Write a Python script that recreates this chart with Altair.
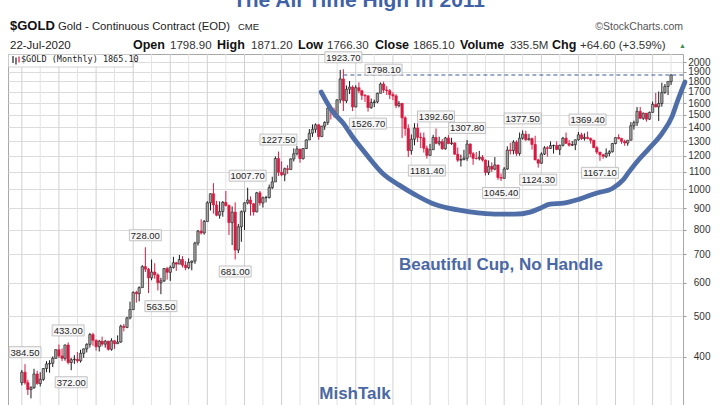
import altair as alt
import pandas as pd

# ---------------- data (monthly OHLC, $GOLD continuous contract) ----------------
months = pd.date_range("2003-01-01", "2020-07-01", freq="MS")

opens = [
    347.7, 368.0, 347.5, 334.9, 338.3, 364.5, 346.0, 354.0, 375.6, 385.0, 386.3, 397.0,   # 2003
    416.1, 402.2, 397.0, 427.0, 388.0, 394.0, 395.0, 391.5, 408.0, 418.0, 428.5, 452.0,   # 2004
    438.0, 423.0, 436.0, 429.0, 436.0, 417.0, 437.0, 430.0, 434.0, 473.0, 470.0, 495.0,   # 2005
    518.0, 569.0, 565.0, 584.0, 655.0, 646.0, 616.0, 636.0, 626.0, 600.0, 606.0, 648.0,   # 2006
    635.0, 652.0, 669.0, 664.0, 681.0, 660.0, 651.0, 670.0, 675.0, 745.0, 795.0, 787.0,   # 2007
    838.0, 928.0, 975.0, 917.0, 867.0, 885.0, 930.0, 914.0, 833.0, 882.0, 717.0, 814.0,   # 2008
    884.0, 928.0, 942.0, 923.0, 883.0, 980.0, 927.0, 954.0, 955.0, 1008.0, 1040.0, 1182.0,  # 2009
    1096, 1081, 1118, 1113, 1179, 1213, 1245, 1181, 1248, 1308, 1357, 1386,   # 2010
    1421, 1332, 1410, 1439, 1556, 1536, 1502, 1628, 1825, 1620, 1725, 1746,   # 2011
    1566, 1740, 1711, 1669, 1664, 1561, 1604, 1610, 1687, 1775, 1718, 1711,   # 2012
    1675, 1663, 1578, 1597, 1476, 1392, 1234, 1313, 1396, 1327, 1323, 1250,   # 2013
    1202, 1240, 1326, 1284, 1296, 1246, 1322, 1282, 1287, 1210, 1171, 1175,   # 2014
    1184, 1279, 1213, 1183, 1182, 1190, 1172, 1095, 1132, 1115, 1141, 1065,   # 2015
    1061, 1116, 1238, 1234, 1292, 1215, 1321, 1350, 1309, 1317, 1276, 1173,   # 2016
    1152, 1211, 1253, 1249, 1268, 1269, 1242, 1270, 1321, 1284, 1271, 1275,   # 2017
    1309, 1345, 1318, 1327, 1318, 1305, 1254, 1224, 1206, 1196, 1215, 1226,   # 2018
    1283, 1325, 1319, 1298, 1286, 1306, 1413, 1437, 1529, 1472, 1514, 1465,   # 2019
    1520, 1587, 1566, 1596, 1694, 1751, 1798.9,                               # 2020
]
highs = [
    372.5, 384.5, 353.0, 341.0, 375.0, 371.0, 368.0, 376.5, 391.0, 393.0, 401.0, 417.0,
    428.0, 419.0, 428.0, 433.0, 398.0, 404.0, 411.0, 416.0, 419.0, 431.0, 456.0, 456.5,
    440.0, 439.0, 447.0, 439.0, 437.0, 443.0, 438.0, 450.0, 477.0, 479.0, 498.0, 541.0,
    572.0, 574.0, 588.0, 660.0, 728.0, 650.0, 681.0, 667.0, 631.0, 616.0, 650.0, 654.0,
    659.0, 691.0, 672.0, 698.0, 694.0, 675.0, 685.0, 677.0, 750.0, 800.0, 848.0, 845.0,
    936.0, 977.0, 1033.0, 938.0, 935.0, 937.0, 990.0, 920.0, 910.0, 930.0, 827.0, 890.0,
    931.0, 1007.7, 961.0, 927.0, 985.0, 990.0, 960.0, 964.0, 1025.0, 1070.0, 1195.0, 1227.5,
    1163, 1125, 1140, 1183, 1249, 1266, 1245, 1252, 1313, 1388, 1424, 1432,
    1425, 1413, 1448, 1575, 1577, 1560, 1632, 1917, 1923.7, 1761, 1804, 1762,
    1763, 1791, 1720, 1680, 1668, 1640, 1630, 1693, 1790, 1798.1, 1755, 1727,
    1697, 1680, 1617, 1600, 1488, 1424, 1348, 1433, 1434, 1361, 1362, 1268,
    1280, 1345, 1392.6, 1331, 1315, 1330, 1345, 1323, 1290, 1255, 1207, 1239,
    1307.8, 1284, 1224, 1224, 1232, 1205, 1175, 1170, 1157, 1191, 1142, 1089,
    1128, 1263, 1287, 1306, 1305, 1362, 1377.5, 1375, 1352, 1326, 1338, 1180,
    1222, 1264, 1264, 1297, 1275, 1297, 1275, 1330, 1362, 1308, 1300, 1310,
    1366, 1361, 1356, 1369.4, 1326, 1310, 1265, 1225, 1213, 1249, 1237, 1286,
    1326, 1349, 1323, 1310, 1306, 1442, 1453, 1566, 1566, 1519, 1515, 1527,
    1613, 1691, 1704, 1788, 1775, 1796, 1871.2,
]
lows = [
    342.5, 344.0, 325.0, 319.0, 336.0, 343.5, 340.5, 351.0, 368.0, 367.0, 378.5, 396.5,
    398.0, 391.0, 392.0, 384.0, 372.0, 385.0, 387.0, 388.0, 398.0, 410.0, 421.0, 425.0,
    414.0, 412.0, 424.0, 421.0, 414.0, 414.0, 418.0, 430.0, 432.0, 460.0, 468.0, 491.0,
    517.0, 538.0, 542.0, 584.0, 636.0, 567.0, 608.0, 613.0, 575.0, 563.5, 602.0, 610.0,
    606.0, 648.0, 640.0, 664.0, 652.0, 642.0, 646.0, 642.0, 665.0, 735.0, 780.0, 780.0,
    838.0, 890.0, 875.0, 862.0, 851.0, 860.0, 910.0, 778.0, 737.0, 681.0, 705.0, 750.0,
    800.0, 920.0, 865.0, 865.0, 881.0, 914.0, 904.0, 930.0, 950.0, 1000.0, 1040.0, 1075.0,
    1073, 1044, 1087, 1112, 1163, 1202, 1155, 1175, 1244, 1308, 1330, 1360,
    1309, 1330, 1382, 1419, 1462, 1478, 1480, 1599, 1532, 1600, 1680, 1531,
    1562, 1687, 1627, 1610, 1526.7, 1550, 1565, 1598, 1687, 1691, 1672, 1635,
    1625, 1555, 1562, 1321, 1338, 1192, 1208, 1270, 1292, 1251, 1221, 1181.4,
    1200, 1238, 1277, 1268, 1240, 1240, 1282, 1273, 1205, 1160, 1131, 1170,
    1167, 1190, 1142, 1175, 1170, 1162, 1077, 1080, 1098, 1109, 1052, 1045.4,
    1058, 1111, 1208, 1209, 1199, 1200, 1310, 1302, 1304, 1241, 1171, 1124.3,
    1147, 1205, 1194, 1245, 1214, 1236, 1205, 1262, 1280, 1261, 1265, 1237,
    1303, 1307, 1303, 1312, 1282, 1250, 1211, 1167.1, 1181, 1185, 1196, 1221,
    1277, 1311, 1281, 1267, 1267, 1304, 1384, 1411, 1465, 1459, 1445, 1459,
    1519, 1563, 1451, 1569, 1683, 1671, 1766.3,
]
closes = [
    368.0, 347.5, 334.9, 338.3, 364.5, 346.0, 354.0, 375.6, 385.0, 386.3, 397.0, 416.1,
    402.2, 397.0, 427.0, 388.0, 394.0, 395.0, 391.5, 408.0, 418.0, 428.5, 452.0, 438.0,
    423.0, 436.0, 429.0, 436.0, 417.0, 437.0, 430.0, 434.0, 473.0, 470.0, 495.0, 518.0,
    569.0, 565.0, 584.0, 655.0, 646.0, 616.0, 636.0, 626.0, 600.0, 606.0, 648.0, 635.0,
    652.0, 669.0, 664.0, 681.0, 660.0, 651.0, 670.0, 675.0, 745.0, 795.0, 787.0, 838.0,
    928.0, 975.0, 917.0, 867.0, 885.0, 930.0, 914.0, 833.0, 882.0, 717.0, 814.0, 884.0,
    928.0, 942.0, 923.0, 883.0, 980.0, 927.0, 954.0, 955.0, 1008.0, 1040.0, 1182.0, 1096.0,
    1081, 1118, 1113, 1179, 1213, 1245, 1181, 1248, 1308, 1357, 1386, 1421,
    1332, 1410, 1439, 1556, 1536, 1502, 1628, 1825, 1620, 1725, 1746, 1566,
    1740, 1711, 1669, 1664, 1561, 1604, 1610, 1687, 1775, 1718, 1711, 1675,
    1663, 1578, 1597, 1476, 1392, 1234, 1313, 1396, 1327, 1323, 1250, 1202,
    1240, 1326, 1284, 1296, 1246, 1322, 1282, 1287, 1210, 1171, 1175, 1184,
    1279, 1213, 1183, 1182, 1190, 1172, 1095, 1132, 1115, 1141, 1065, 1061,
    1116, 1238, 1234, 1292, 1215, 1321, 1350, 1309, 1317, 1276, 1173, 1152,
    1211, 1253, 1249, 1268, 1269, 1242, 1270, 1321, 1284, 1271, 1275, 1309,
    1345, 1318, 1327, 1318, 1305, 1254, 1224, 1206, 1196, 1215, 1226, 1283,
    1325, 1319, 1298, 1286, 1306, 1413, 1437, 1529, 1472, 1514, 1465, 1520,
    1587, 1566, 1596, 1694, 1751, 1800.5, 1865.1,
]

# swing-point annotations
label_dates = ["2003-02-01", "2004-04-01", "2004-05-01", "2006-05-01", "2006-10-01",
               "2008-10-01", "2009-02-01", "2009-12-01", "2011-09-01", "2012-05-01",
               "2012-10-01", "2013-12-01", "2014-03-01", "2015-01-01", "2015-12-01",
               "2016-07-01", "2016-12-01", "2018-04-01", "2018-08-01"]
label_values = [384.50, 433.00, 372.00, 728.00, 563.50, 681.00, 1007.70, 1227.50, 1923.70,
                1526.70, 1798.10, 1181.40, 1392.60, 1307.80, 1045.40, 1377.50, 1124.30,
                1369.40, 1167.10]
label_side = ["high", "high", "low", "high", "low", "low", "high", "high", "high", "low",
              "high", "low", "high", "high", "low", "high", "low", "high", "low"]

# hand-drawn cup (traced)
cup_dates = ["2011-01-26", "2011-05-22", "2011-08-29", "2011-12-02", "2012-04-20",
             "2012-09-20", "2013-03-04", "2013-08-14", "2014-01-19", "2014-07-02",
             "2014-12-13", "2015-05-16", "2015-10-30", "2016-04-12", "2016-09-13",
             "2016-12-20", "2017-03-26", "2017-08-08", "2018-01-12", "2018-06-25",
             "2018-12-05", "2019-03-14", "2019-05-12", "2019-08-15", "2019-11-21",
             "2020-04-05", "2020-07-09", "2020-09-06", "2020-11-14"]
cup_prices = [1699, 1523, 1434, 1329, 1204, 1091, 1022, 968, 926, 901, 887, 877, 872, 872,
              882, 901, 921, 926, 947, 978, 1005, 1050, 1097, 1172, 1244, 1358, 1483, 1627, 1794]

y_ticks = [400, 500, 600, 700, 800, 900, 1000, 1100, 1200, 1300, 1400, 1500, 1600,
           1700, 1800, 1900, 2000]
grid_years = list(range(2003, 2021))

# ---------------- frames ----------------
df = pd.DataFrame({"date": months, "open": opens, "high": highs, "low": lows, "close": closes})
df["dir"] = ["up" if c >= o else "down" for o, c in zip(opens, closes)]

lab = pd.DataFrame({"date": pd.to_datetime(label_dates), "value": label_values, "side": label_side})
lab["text"] = [f"{v:.2f}" for v in label_values]
lab["w"] = [len(t) * 5 + 2 for t in lab["text"]]
lab["size"] = lab["w"] ** 2
lab["shape"] = [f"M-1,{-11 / w:.3f}L1,{-11 / w:.3f}L1,{11 / w:.3f}L-1,{11 / w:.3f}Z" for w in lab["w"]]

cup = pd.DataFrame({"date": pd.to_datetime(cup_dates), "price": cup_prices})
peak_i = highs.index(max(highs))
dash = pd.DataFrame({"date": [months[peak_i]], "level": [closes[-1]]})
gjan = pd.DataFrame({"date": pd.to_datetime([f"{y}-01-01" for y in grid_years])})
gjul = pd.DataFrame({"date": pd.to_datetime([f"{y}-07-01" for y in grid_years])})
one = pd.DataFrame({"k": [0]})

# ---------------- layout ----------------
PL, PT = 8, 54
W, H = 675, 351
FONT = "Liberation Sans, Arial, sans-serif"
BLUE = "#4a68a4"
RED = "#d81a42"

xsc = alt.Scale(domain=[alt.DateTime(year=2002, month=10, date=6),
                        alt.DateTime(year=2020, month=9, date=7)], nice=False)
ysc = alt.Scale(type="log", domain=[307.7, 2091], nice=False)
yaxis = alt.Axis(orient="right", values=y_ticks, grid=True, gridColor="#dcdcdc", gridWidth=1,
                 domain=False, ticks=True, tickSize=3, tickColor="#999999",
                 labelFontSize=10, labelColor="#333333", labelFont=FONT,
                 labelAlign="right", labelPadding=24, labelOverlap=False, title=None, format="d")
X = alt.X("date:T", scale=xsc, axis=None)


def Y(field):
    return alt.Y(field, scale=ysc, axis=yaxis)


def txt(text, x, y, size, color="#222222", bold=False, align="left", font=FONT):
    return alt.Chart(one).mark_text(
        text=text, fontSize=size, fontWeight="bold" if bold else "normal", color=color,
        align=align, baseline="alphabetic", font=font
    ).encode(x=alt.value(x - PL), y=alt.value(y - PT))


def prule(x, y1, y2, color="#222222", w=1.2):
    return alt.Chart(one).mark_rule(color=color, strokeWidth=w).encode(
        x=alt.value(x - PL), y=alt.value(y1 - PT), y2=alt.value(y2 - PT))


grid1 = alt.Chart(gjan).mark_rule(color="#d0d0d0", strokeWidth=1).encode(x=X)
grid2 = alt.Chart(gjul).mark_rule(color="#e3e3e3", strokeWidth=1).encode(x=X)

dirscale_line = alt.Scale(domain=["up", "down"], range=["#1a1a1a", RED])
wicks = alt.Chart(df).mark_rule(strokeWidth=1).encode(
    x=X, y=Y("low:Q"), y2="high:Q", color=alt.Color("dir:N", scale=dirscale_line, legend=None))
bodies = alt.Chart(df).mark_bar(width=2.4, strokeWidth=0.6).encode(
    x=X, y=Y("open:Q"), y2="close:Q",
    fill=alt.Fill("dir:N", scale=alt.Scale(domain=["up", "down"], range=["#a0a0a0", RED]), legend=None),
    stroke=alt.Stroke("dir:N", scale=dirscale_line, legend=None))

dash_line = alt.Chart(dash).mark_rule(color="#3e5b9a", strokeDash=[4, 3], strokeWidth=1.1).encode(
    x=X, x2=alt.value(W), y=Y("level:Q"))

cup_line = alt.Chart(cup).mark_line(color="#4f6ea8", strokeWidth=4.8, interpolate="monotone",
                                    strokeCap="round").encode(x=X, y=Y("price:Q"))

label_layers = []
for side, off in (("high", -12), ("low", 12)):
    sub = lab[lab["side"] == side]
    label_layers.append(
        alt.Chart(sub).mark_point(filled=True, fill="#f7f7f7", stroke="#b5b5b5", strokeWidth=0.8,
                                  opacity=1, yOffset=off).encode(
            x=X, y=Y("value:Q"), shape=alt.Shape("shape:N", scale=None),
            size=alt.Size("size:Q", scale=None)))
    label_layers.append(
        alt.Chart(sub).mark_text(fontSize=9.5, color="#1e1e1e", yOffset=off + 0.5, baseline="middle",
                                 font=FONT).encode(x=X, y=Y("value:Q"), text="text:N"))

legend_box = alt.Chart(one).mark_rect(fill="white", stroke="#c8c8c8", strokeWidth=0.8).encode(
    x=alt.value(0.5), x2=alt.value(125), y=alt.value(0.5), y2=alt.value(13))
legend_txt = txt(f"$GOLD (Monthly) {closes[-1]:.2f}", 21, 61.5, 8.5, "#222222",
                 font="DejaVu Sans Mono, monospace")
legend_icon = [prule(13, 56, 63), prule(16, 57.5, 64.5), prule(19, 56.5, 62.5, RED)]

chg = closes[-1] - closes[-2]
pct = chg / closes[-2] * 100
L2 = 48.5
segs = [("Open", 133, True), (f"{opens[-1]:.2f}", 170, False),
        ("High", 217, True), (f"{highs[-1]:.2f}", 251, False),
        ("Low", 298, True), (f"{lows[-1]:.2f}", 327, False),
        ("Close", 375, True), (f"{closes[-1]:.2f}", 413, False),
        ("Volume", 460, True), ("335.5M", 510, False),
        ("Chg", 552, True), (f"+{chg:.2f} (+{pct:.2f}%)", 580, False)]
header = [
    txt("The All Time High in 2011", 359, 7, 21, "#3f62a6", bold=True, align="center"),
    txt("$GOLD", 10, 30, 13, "#111111", bold=True),
    txt("Gold - Continuous Contract (EOD)", 58, 30, 11.3),
    txt("CME", 238, 30, 9.5),
    txt("\u00a9StockCharts.com", 683, 30, 10.5, "#555555", align="right"),
    txt("22-Jul-2020", 10, L2, 11.5),
    txt("\u25b2", 679, L2 - 1, 7, "#3f8a46"),
]
for s, x, b in segs:
    header.append(txt(s, x, L2, 12.5 if b else 11.5, "#111111" if b else "#333333", bold=b))

notes = [
    txt("Beautiful Cup, No Handle", 501, 269.5, 17, BLUE, bold=True, align="center"),
    txt("MishTalk", 355, 398.5, 17, BLUE, bold=True, align="center"),
]

chart = alt.layer(
    grid1, grid2, wicks, bodies, dash_line, cup_line, *label_layers,
    legend_box, legend_txt, *legend_icon, *header, *notes
).properties(
    width=W, height=H,
    autosize=alt.AutoSizeParams(type="none"),
    padding={"left": PL, "top": PT, "right": 720 - PL - W, "bottom": 0},
    background="white",
).configure_view(stroke="#a8a8a8", strokeWidth=1)

chart.save("out.html", embed_options={"renderer": "svg", "actions": False})
